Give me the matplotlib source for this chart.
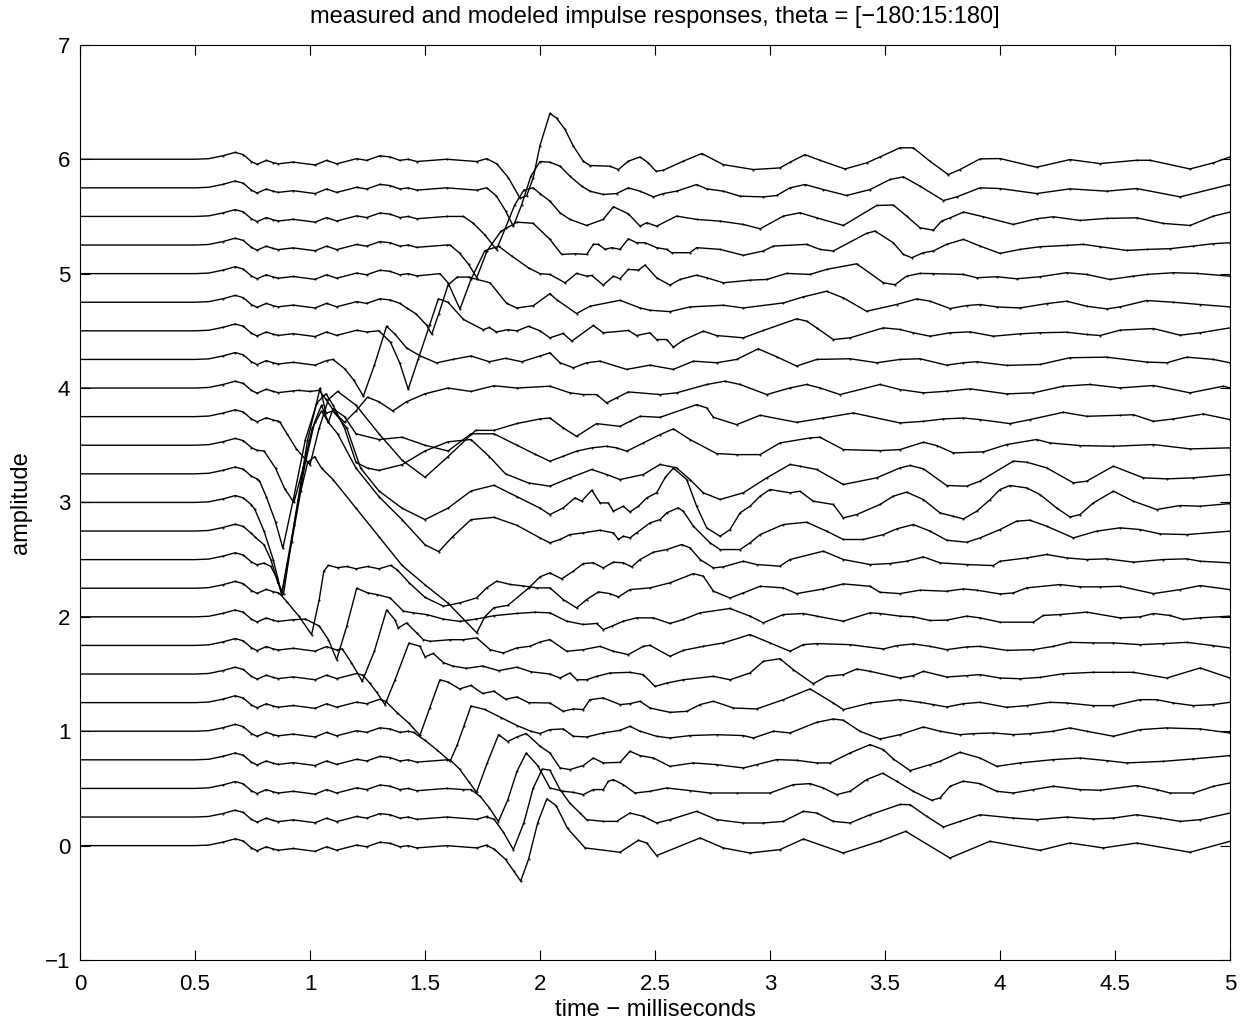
import matplotlib
matplotlib.use("Agg")
import matplotlib.pyplot as plt
from matplotlib.ticker import MultipleLocator, FuncFormatter

plt.rcParams['font.family'] = ['Liberation Sans', 'DejaVu Sans']

theta = list(range(-180, 181, 15))
offset_step = 0.25

# shared onset wiggle (time ms, amplitude relative to trace offset)
pre_t = [0.0, 0.50, 0.56, 0.62, 0.675, 0.71, 0.745, 0.77, 0.81, 0.84, 0.862, 0.927, 1.022, 1.072, 1.116,
         1.203, 1.246, 1.304, 1.348, 1.391, 1.427, 1.464, 1.594, 1.725, 1.768]
pre_y = [0.0, 0.0, 0.005, 0.03, 0.06, 0.04, -0.02, -0.045, -0.01, -0.03, -0.04, -0.025, -0.05, -0.01, -0.04,
         0.005, -0.01, 0.03, 0.02, -0.01, 0.0, -0.02, 0.0, -0.02, 0.005]

wave_00 = [(1.77,0.0),(1.80,-0.03),(1.85,-0.12),(1.885,-0.22),(1.916,-0.31),(1.95,-0.12),(1.99,0.2),(2.03,0.41),(2.07,0.35),(2.12,0.15),(2.196,-0.02),(2.348,-0.058),(2.428,0.047),(2.464,0.023),(2.507,-0.087),(2.696,0.067),(2.797,-0.02),(2.913,-0.064),(3.043,-0.035),(3.145,0.058),(3.319,-0.064),(3.48,0.04),(3.59,0.125),(3.782,-0.108),(3.956,0.038),(4.174,-0.041),(4.304,0.023),(4.449,-0.02),(4.594,0.023),(4.826,-0.058),(5.0,0.038)]
wave_01 = [(1.77,0.0),(1.80,-0.02),(1.84,-0.13),(1.884,-0.285),(1.93,-0.05),(1.97,0.25),(2.01,0.42),(2.043,0.41),(2.087,0.24),(2.13,0.12),(2.174,0.035),(2.203,-0.023),(2.275,-0.038),(2.333,-0.038),(2.391,0.035),(2.449,0.006),(2.507,-0.052),(2.565,-0.023),(2.681,0.05),(2.768,-0.023),(2.884,-0.052),(2.971,-0.052),(3.058,-0.038),(3.145,0.05),(3.203,0.035),(3.275,-0.038),(3.348,-0.052),(3.435,0.02),(3.565,0.11),(3.609,0.108),(3.681,0.006),(3.754,-0.087),(3.826,-0.038),(3.913,0.02),(4.058,-0.009),(4.159,-0.023),(4.29,0.0),(4.406,-0.017),(4.493,-0.009),(4.594,0.02),(4.696,-0.009),(4.783,-0.038),(4.87,-0.023),(5.0,0.035)]
wave_02 = [(1.667,-0.01),(1.70,-0.01),(1.74,-0.07),(1.78,-0.17),(1.819,-0.29),(1.86,-0.1),(1.90,0.15),(1.94,0.31),(1.99,0.2),(2.043,0.004),(2.101,-0.025),(2.145,-0.034),(2.188,-0.054),(2.232,-0.01),(2.275,-0.01),(2.297,0.062),(2.319,0.077),(2.362,0.033),(2.413,-0.04),(2.478,-0.025),(2.551,0.004),(2.652,-0.019),(2.739,-0.04),(2.855,-0.04),(3.0,-0.04),(3.101,0.033),(3.174,0.042),(3.232,0.004),(3.29,-0.054),(3.348,-0.025),(3.42,0.077),(3.49,0.133),(3.55,0.063),(3.623,-0.025),(3.703,-0.104),(3.739,-0.083),(3.783,0.019),(3.84,0.063),(3.913,0.042),(3.986,-0.025),(4.058,-0.04),(4.145,-0.01),(4.232,0.019),(4.348,-0.01),(4.435,-0.016),(4.594,0.025),(4.681,-0.01),(4.739,-0.04),(4.841,-0.04),(4.928,0.019),(5.0,0.048)]
wave_03 = [(1.609,0.0),(1.65,-0.08),(1.69,-0.19),(1.724,-0.284),(1.77,-0.03),(1.82,0.22),(1.86,0.16),(1.90,0.2),(1.94,0.23),(2.0,0.12),(2.043,0.06),(2.087,-0.071),(2.13,-0.085),(2.188,-0.05),(2.232,0.016),(2.275,-0.027),(2.348,-0.022),(2.391,0.075),(2.435,0.037),(2.493,0.016),(2.565,-0.057),(2.667,-0.027),(2.768,-0.042),(2.884,-0.071),(2.942,-0.042),(3.029,0.002),(3.116,-0.004),(3.203,-0.027),(3.261,-0.027),(3.348,0.06),(3.435,0.133),(3.493,0.089),(3.536,0.008),(3.609,-0.094),(3.696,-0.042),(3.739,-0.013),(3.826,0.066),(3.913,0.016),(3.986,-0.057),(4.087,-0.027),(4.232,0.002),(4.348,0.016),(4.464,-0.007),(4.551,-0.027),(4.71,-0.013),(4.841,0.008),(5.0,0.037)]
wave_04 = [(1.45,-0.01),(1.50,-0.08),(1.55,-0.16),(1.609,-0.263),(1.64,-0.12),(1.67,0.05),(1.70,0.22),(1.76,0.19),(1.83,0.12),(1.9,0.05),(1.96,0.0),(2.0,-0.02),(2.043,0.014),(2.101,0.02),(2.145,-0.044),(2.203,-0.05),(2.275,-0.015),(2.348,0.008),(2.391,0.043),(2.435,0.0),(2.507,-0.044),(2.565,-0.059),(2.652,-0.038),(2.768,-0.03),(2.884,-0.038),(2.928,-0.059),(3.015,0.0),(3.087,-0.015),(3.203,0.078),(3.275,0.107),(3.319,0.096),(3.391,0.0),(3.478,-0.068),(3.565,-0.03),(3.667,0.037),(3.739,0.0),(3.826,-0.03),(3.884,-0.021),(3.971,-0.015),(4.058,-0.03),(4.13,-0.021),(4.232,0.0),(4.304,0.029),(4.377,0.0),(4.493,-0.044),(4.609,0.014),(4.725,0.029),(4.87,0.02),(5.0,-0.015)]
wave_05 = [(1.33,0.01),(1.38,-0.09),(1.43,-0.18),(1.478,-0.286),(1.52,-0.05),(1.565,0.2),(1.6,0.18),(1.65,0.12),(1.7,0.15),(1.75,0.08),(1.8,0.1),(1.85,0.03),(1.9,0.05),(1.95,0.0),(2.043,-0.003),(2.101,-0.076),(2.145,-0.055),(2.188,-0.061),(2.217,0.026),(2.275,0.041),(2.348,-0.017),(2.391,-0.009),(2.435,0.012),(2.478,-0.047),(2.565,-0.085),(2.638,-0.076),(2.696,-0.017),(2.754,0.012),(2.841,-0.047),(2.942,-0.055),(3.058,0.026),(3.174,0.12),(3.275,-0.003),(3.319,-0.061),(3.435,-0.003),(3.565,0.026),(3.652,0.003),(3.71,-0.017),(3.768,-0.038),(3.841,-0.009),(3.913,0.003),(4.029,-0.041),(4.116,-0.026),(4.217,0.003),(4.29,-0.003),(4.406,-0.026),(4.493,-0.026),(4.609,0.026),(4.681,0.026),(4.754,-0.003),(4.841,-0.026),(4.928,-0.017),(5.0,0.003)]
wave_06 = [(1.23,-0.01),(1.26,-0.08),(1.29,-0.16),(1.326,-0.267),(1.37,-0.05),(1.43,0.27),(1.478,0.243),(1.5,0.15),(1.536,0.18),(1.58,0.1),(1.62,0.07),(1.68,0.05),(1.75,0.07),(1.82,0.03),(1.9,0.06),(1.96,0.02),(2.043,0.0),(2.087,-0.035),(2.13,0.009),(2.16,-0.05),(2.203,-0.05),(2.246,-0.02),(2.304,0.009),(2.391,0.015),(2.449,-0.005),(2.5,-0.108),(2.551,-0.079),(2.623,-0.05),(2.754,-0.02),(2.826,-0.05),(2.913,0.009),(2.971,0.111),(3.043,0.134),(3.101,0.038),(3.188,-0.085),(3.246,-0.02),(3.319,-0.005),(3.377,0.044),(3.435,0.024),(3.565,-0.035),(3.623,-0.014),(3.667,0.024),(3.768,-0.026),(3.855,-0.014),(3.913,-0.005),(4.0,-0.035),(4.087,-0.041),(4.174,-0.029),(4.275,0.003),(4.406,0.015),(4.493,0.015),(4.58,0.015),(4.725,-0.035),(4.87,0.053),(5.0,-0.035)]
wave_07 = [(1.14,-0.03),(1.18,-0.15),(1.227,-0.313),(1.28,-0.05),(1.333,0.31),(1.369,0.225),(1.384,0.153),(1.42,0.197),(1.464,0.109),(1.493,0.05),(1.522,0.036),(1.609,0.05),(1.667,0.05),(1.725,0.066),(1.783,-0.037),(1.84,-0.066),(1.899,-0.022),(1.957,-0.007),(2.0,0.03),(2.043,0.051),(2.116,-0.051),(2.188,-0.037),(2.261,-0.008),(2.319,-0.051),(2.384,-0.08),(2.449,-0.008),(2.478,0.001),(2.565,-0.095),(2.623,-0.043),(2.71,-0.008),(2.797,0.022),(2.913,0.095),(3.0,0.022),(3.087,-0.051),(3.145,0.007),(3.203,0.016),(3.348,0.007),(3.493,-0.031),(3.55,-0.002),(3.623,0.013),(3.696,-0.008),(3.768,-0.037),(3.855,-0.013),(3.913,-0.008),(4.029,-0.043),(4.145,-0.037),(4.232,-0.008),(4.304,0.027),(4.406,0.022),(4.493,0.022),(4.609,0.007),(4.71,0.016),(4.812,0.027),(4.928,-0.002),(5.0,-0.022)]
wave_08 = [(0.98,-0.02),(1.04,-0.08),(1.08,-0.2),(1.116,-0.374),(1.16,-0.08),(1.203,0.25),(1.25,0.21),(1.29,0.195),(1.348,0.166),(1.406,0.049),(1.449,0.035),(1.507,0.02),(1.58,-0.02),(1.65,-0.04),(1.72,-0.02),(1.8,0.01),(1.9,0.03),(1.98,0.04),(2.043,0.035),(2.116,-0.038),(2.188,-0.067),(2.246,-0.058),(2.275,-0.111),(2.312,-0.082),(2.362,-0.038),(2.42,-0.009),(2.493,-0.009),(2.565,-0.058),(2.623,-0.023),(2.696,0.035),(2.826,0.073),(2.913,0.006),(2.971,-0.052),(3.058,0.02),(3.145,0.029),(3.203,0.006),(3.319,-0.038),(3.435,0.035),(3.478,0.029),(3.565,0.006),(3.623,0.0),(3.696,-0.032),(3.768,-0.029),(3.855,0.006),(3.913,-0.009),(4.0,-0.047),(4.145,-0.047),(4.188,0.012),(4.261,0.02),(4.377,0.041),(4.522,-0.009),(4.609,0.0),(4.667,0.029),(4.739,0.012),(4.797,-0.023),(4.87,-0.009),(5.0,0.006)]
wave_09 = [(0.87,-0.05),(0.9,-0.12),(0.95,-0.24),(1.007,-0.405),(1.04,-0.1),(1.06,0.15),(1.08,0.2),(1.12,0.18),(1.16,0.19),(1.2,0.17),(1.25,0.19),(1.3,0.17),(1.35,0.2),(1.38,0.16),(1.43,0.05),(1.5,-0.08),(1.58,-0.157),(1.652,-0.128),(1.725,-0.084),(1.768,0.003),(1.812,0.062),(1.87,0.033),(1.928,0.02),(1.986,0.003),(2.043,0.003),(2.101,-0.099),(2.159,-0.172),(2.203,-0.099),(2.254,-0.032),(2.304,-0.047),(2.341,-0.076),(2.391,-0.012),(2.478,0.003),(2.565,0.047),(2.667,0.128),(2.71,0.105),(2.754,-0.026),(2.826,-0.085),(2.884,-0.041),(2.957,0.017),(3.058,0.003),(3.116,-0.047),(3.232,-0.006),(3.319,0.038),(3.435,0.017),(3.478,-0.035),(3.565,-0.047),(3.652,-0.017),(3.768,-0.026),(3.841,-0.006),(3.899,-0.017),(4.0,-0.05),(4.058,-0.041),(4.116,0.003),(4.261,0.032),(4.348,0.012),(4.435,0.012),(4.522,0.017),(4.667,-0.047),(4.783,-0.012),(4.87,0.023),(5.0,-0.012)]
wave_10 = [(0.80,-0.03),(0.83,-0.06),(0.855,-0.16),(0.877,-0.3),(0.92,0.15),(0.96,0.6),(0.99,0.85),(1.02,0.9),(1.05,0.8),(1.1,0.7),(1.2,0.45),(1.3,0.2),(1.4,-0.05),(1.5,-0.22),(1.6,-0.38),(1.725,-0.64),(1.76,-0.5),(1.8,-0.42),(1.86,-0.4),(1.95,-0.25),(2.0,-0.15),(2.043,-0.116),(2.094,-0.168),(2.145,-0.101),(2.188,-0.034),(2.232,-0.028),(2.275,-0.072),(2.319,-0.022),(2.362,-0.028),(2.399,-0.063),(2.435,0.001),(2.493,0.065),(2.551,0.088),(2.616,0.132),(2.652,0.103),(2.696,0.001),(2.754,-0.072),(2.797,-0.063),(2.884,-0.014),(2.942,-0.043),(3.043,-0.057),(3.087,0.001),(3.232,0.074),(3.319,0.001),(3.435,-0.043),(3.522,-0.034),(3.594,-0.014),(3.667,0.024),(3.739,-0.028),(3.855,-0.043),(3.971,-0.052),(4.0,-0.014),(4.116,0.015),(4.203,0.045),(4.29,0.015),(4.377,0.001),(4.464,0.007),(4.58,-0.022),(4.71,0.001),(4.812,0.007),(4.87,-0.014),(5.0,-0.028)]
wave_11 = [(0.76,-0.05),(0.8,-0.12),(0.83,-0.25),(0.86,-0.45),(0.885,-0.55),(0.93,0.05),(0.98,0.6),(1.02,0.95),(1.05,1.1),(1.08,0.95),(1.12,0.85),(1.2,0.55),(1.3,0.3),(1.4,0.1),(1.5,-0.12),(1.56,-0.18),(1.62,-0.05),(1.7,0.1),(1.8,0.12),(1.9,0.05),(2.0,-0.06),(2.043,-0.103),(2.087,-0.074),(2.13,-0.031),(2.188,-0.016),(2.261,0.007),(2.319,-0.016),(2.341,-0.074),(2.362,-0.045),(2.391,-0.06),(2.42,-0.016),(2.478,0.071),(2.522,0.1),(2.551,0.159),(2.601,0.203),(2.623,0.173),(2.667,0.042),(2.739,-0.103),(2.783,-0.162),(2.87,-0.162),(2.913,-0.103),(2.957,-0.031),(3.058,0.057),(3.159,0.077),(3.246,-0.001),(3.319,-0.074),(3.406,-0.074),(3.493,-0.031),(3.551,0.019),(3.623,0.057),(3.696,-0.001),(3.768,-0.08),(3.855,-0.098),(3.913,-0.06),(4.0,0.013),(4.072,0.086),(4.13,0.095),(4.203,0.042),(4.319,-0.06),(4.42,-0.001),(4.522,0.028),(4.609,0.013),(4.696,-0.025),(4.812,-0.031),(5.0,-0.001)]
wave_12 = [(0.76,-0.06),(0.8,-0.25),(0.84,-0.5),(0.877,-0.8),(0.93,-0.2),(0.99,0.55),(1.044,1.0),(1.07,0.78),(1.1,0.8),(1.16,0.65),(1.22,0.3),(1.3,0.1),(1.4,-0.05),(1.5,-0.15),(1.6,-0.05),(1.7,0.1),(1.8,0.15),(1.9,0.05),(2.0,-0.05),(2.043,-0.106),(2.101,-0.048),(2.152,0.04),(2.181,0.011),(2.225,0.107),(2.261,-0.004),(2.297,-0.004),(2.319,-0.077),(2.362,-0.033),(2.391,-0.083),(2.428,-0.033),(2.464,0.04),(2.507,0.084),(2.545,0.22),(2.58,0.3),(2.638,0.2),(2.681,-0.033),(2.725,-0.223),(2.783,-0.296),(2.826,-0.237),(2.87,-0.091),(2.913,-0.033),(2.957,0.055),(3.0,0.113),(3.087,0.084),(3.13,0.098),(3.188,0.011),(3.275,-0.018),(3.319,-0.135),(3.377,-0.106),(3.478,-0.018),(3.536,0.055),(3.594,0.09),(3.667,0.025),(3.739,-0.091),(3.797,-0.121),(3.841,-0.144),(3.899,-0.077),(3.957,0.025),(4.0,0.113),(4.043,0.148),(4.116,0.127),(4.174,0.069),(4.246,-0.048),(4.304,-0.127),(4.348,-0.106),(4.406,-0.004),(4.493,0.098),(4.58,0.011),(4.681,-0.062),(4.783,-0.027),(4.87,-0.033),(5.0,-0.01)]
wave_13 = [(0.78,-0.06),(0.81,-0.2),(0.85,-0.42),(0.882,-0.65),(0.93,-0.2),(0.98,0.3),(1.03,0.62),(1.07,0.7),(1.1,0.6),(1.15,0.4),(1.2,0.1),(1.25,0.05),(1.3,0.03),(1.4,0.08),(1.5,0.2),(1.6,0.28),(1.7,0.3),(1.78,0.15),(1.85,0.0),(1.95,-0.08),(2.043,-0.108),(2.13,-0.035),(2.225,0.038),(2.29,-0.006),(2.348,-0.05),(2.449,-0.006),(2.522,0.082),(2.594,0.052),(2.652,-0.05),(2.71,-0.166),(2.783,-0.224),(2.884,-0.166),(2.986,-0.035),(3.087,0.082),(3.13,0.067),(3.203,0.038),(3.319,-0.093),(3.464,-0.035),(3.565,0.052),(3.609,0.073),(3.667,0.044),(3.768,-0.102),(3.855,-0.108),(3.913,-0.064),(4.058,0.111),(4.116,0.102),(4.203,0.052),(4.319,-0.079),(4.377,-0.064),(4.493,0.067),(4.623,-0.035),(4.725,-0.044),(4.841,-0.035),(5.0,-0.006)]
wave_14 = [(0.80,-0.05),(0.85,-0.2),(0.89,-0.38),(0.93,-0.5),(0.97,-0.2),(1.01,0.15),(1.05,0.3),(1.08,0.2),(1.1,0.32),(1.15,0.25),(1.2,0.1),(1.3,0.05),(1.4,0.07),(1.5,0.0),(1.6,-0.05),(1.7,0.1),(1.8,0.1),(1.9,0.0),(1.98,-0.08),(2.043,-0.14),(2.101,-0.096),(2.159,-0.052),(2.225,-0.023),(2.29,-0.009),(2.333,-0.023),(2.377,-0.052),(2.449,0.02),(2.522,0.093),(2.58,0.143),(2.652,0.05),(2.768,-0.073),(2.855,-0.082),(2.957,-0.082),(3.043,0.02),(3.174,0.064),(3.217,0.07),(3.319,-0.038),(3.478,-0.047),(3.565,-0.038),(3.667,0.026),(3.725,-0.003),(3.797,-0.067),(3.928,-0.058),(4.029,0.006),(4.159,0.05),(4.217,0.02),(4.348,-0.003),(4.493,-0.009),(4.667,0.006),(4.826,-0.032),(5.0,-0.023)]
wave_15 = [(0.87,-0.05),(0.9,-0.15),(0.94,-0.28),(1.0,-0.42),(1.04,-0.1),(1.08,0.15),(1.12,0.22),(1.2,0.1),(1.3,-0.15),(1.4,-0.38),(1.5,-0.53),(1.6,-0.35),(1.72,-0.12),(1.8,-0.12),(1.9,-0.06),(2.0,-0.02),(2.043,-0.012),(2.101,-0.099),(2.159,-0.172),(2.246,-0.061),(2.348,-0.085),(2.391,-0.041),(2.435,0.003),(2.522,-0.006),(2.681,0.105),(2.725,0.076),(2.754,-0.006),(2.855,-0.07),(2.957,0.012),(3.116,-0.05),(3.232,-0.012),(3.362,0.032),(3.565,-0.055),(3.667,-0.041),(3.754,-0.02),(3.841,-0.012),(3.913,-0.026),(4.043,-0.061),(4.13,-0.026),(4.275,0.038),(4.377,0.003),(4.522,0.012),(4.58,0.017),(4.667,-0.041),(4.754,-0.02),(4.884,0.023),(5.0,-0.026)]
wave_16 = [(0.95,-0.02),(1.0,-0.03),(1.04,-0.02),(1.07,-0.1),(1.11,-0.22),(1.15,-0.3),(1.2,-0.2),(1.25,-0.08),(1.3,-0.12),(1.36,-0.2),(1.42,-0.12),(1.5,-0.05),(1.6,0.0),(1.7,-0.03),(1.8,0.02),(1.9,0.0),(2.043,0.016),(2.13,-0.042),(2.188,-0.057),(2.246,-0.057),(2.29,-0.13),(2.333,-0.086),(2.384,-0.034),(2.522,-0.057),(2.594,-0.042),(2.725,0.031),(2.804,0.06),(2.87,0.031),(2.986,-0.057),(3.087,0.001),(3.159,0.031),(3.217,0.001),(3.304,-0.057),(3.478,0.031),(3.565,-0.013),(3.667,-0.042),(3.768,-0.028),(3.87,-0.007),(4.029,-0.051),(4.145,-0.042),(4.275,0.016),(4.391,0.031),(4.522,0.001),(4.667,0.022),(4.826,-0.042),(4.971,0.016),(5.0,0.001)]
wave_17 = [(1.10,0.0),(1.15,-0.08),(1.19,-0.18),(1.232,-0.32),(1.28,-0.05),(1.333,0.29),(1.37,0.22),(1.42,0.1),(1.48,0.03),(1.55,-0.03),(1.62,0.0),(1.7,0.03),(1.78,-0.02),(1.85,0.01),(1.92,-0.02),(2.0,0.03),(2.043,0.058),(2.087,-0.029),(2.145,-0.073),(2.203,-0.029),(2.261,-0.015),(2.377,-0.087),(2.478,-0.05),(2.58,-0.087),(2.667,-0.015),(2.768,-0.029),(2.855,0.0),(2.949,0.093),(3.029,0.023),(3.116,-0.058),(3.203,0.0),(3.348,0.006),(3.464,-0.029),(3.565,0.0),(3.652,0.006),(3.768,-0.05),(3.841,-0.029),(3.899,-0.02),(4.029,-0.052),(4.174,-0.044),(4.304,0.015),(4.464,0.02),(4.638,-0.023),(4.725,-0.029),(4.812,0.02),(4.928,0.0),(5.0,-0.029)]
wave_18 = [(1.30,0.0),(1.35,-0.1),(1.39,-0.28),(1.427,-0.51),(1.47,-0.25),(1.52,0.05),(1.558,0.28),(1.6,0.25),(1.667,0.1),(1.753,0.01),(1.78,0.03),(1.81,-0.01),(1.86,0.01),(1.9,0.0),(1.95,0.04),(2.0,0.0),(2.043,-0.061),(2.101,-0.023),(2.138,-0.09),(2.232,0.047),(2.275,-0.017),(2.384,0.003),(2.42,-0.041),(2.478,-0.017),(2.507,-0.076),(2.551,-0.076),(2.58,-0.143),(2.623,-0.082),(2.71,-0.003),(2.768,-0.041),(2.884,-0.061),(2.971,0.003),(3.116,0.105),(3.159,0.085),(3.203,0.026),(3.275,-0.076),(3.348,-0.061),(3.493,0.026),(3.565,0.012),(3.623,-0.017),(3.696,-0.047),(3.783,-0.017),(3.87,-0.009),(3.971,-0.047),(4.087,-0.026),(4.174,-0.017),(4.29,-0.012),(4.377,-0.032),(4.435,-0.041),(4.522,0.006),(4.667,0.02),(4.783,-0.038),(4.87,-0.017),(5.0,0.026)]
wave_19 = [(1.42,-0.05),(1.46,-0.1),(1.507,-0.2),(1.529,-0.28),(1.56,-0.1),(1.6,0.15),(1.64,0.22),(1.69,0.22),(1.725,0.2),(1.783,0.17),(1.855,-0.01),(1.899,-0.05),(1.971,-0.03),(2.043,0.075),(2.072,0.023),(2.159,-0.099),(2.217,-0.035),(2.348,0.017),(2.435,-0.05),(2.478,-0.07),(2.565,-0.082),(2.652,-0.041),(2.797,-0.026),(2.884,-0.05),(3.058,-0.006),(3.145,0.047),(3.246,0.096),(3.319,0.038),(3.42,-0.079),(3.55,-0.02),(3.638,0.029),(3.696,0.009),(3.783,-0.055),(3.855,-0.029),(3.913,-0.02),(3.986,-0.041),(4.087,-0.05),(4.203,-0.012),(4.29,0.009),(4.377,-0.035),(4.464,-0.058),(4.522,-0.041),(4.638,0.015),(4.754,0.0),(4.87,-0.02),(5.0,-0.041)]
wave_20 = [(1.565,0.0),(1.6,-0.08),(1.652,-0.31),(1.70,-0.05),(1.76,0.2),(1.82,0.24),(1.88,0.15),(1.95,0.05),(2.0,0.0),(2.043,-0.007),(2.109,-0.08),(2.159,0.002),(2.203,-0.022),(2.225,-0.016),(2.275,-0.1),(2.319,-0.022),(2.348,-0.045),(2.384,0.037),(2.428,0.031),(2.457,0.075),(2.507,-0.036),(2.565,-0.1),(2.609,-0.051),(2.681,-0.013),(2.725,-0.036),(2.797,-0.08),(2.913,-0.057),(2.986,-0.051),(3.072,0.002),(3.174,-0.007),(3.246,0.037),(3.377,0.086),(3.493,-0.08),(3.543,-0.097),(3.594,-0.022),(3.652,0.002),(3.71,0.0),(3.841,-0.007),(3.899,-0.036),(3.986,-0.027),(4.072,-0.045),(4.174,-0.027),(4.29,0.008),(4.377,-0.007),(4.478,-0.051),(4.58,-0.022),(4.638,-0.007),(4.754,0.008),(4.855,0.002),(5.0,-0.022)]
wave_21 = [(1.609,0.0),(1.65,-0.07),(1.69,-0.17),(1.725,-0.285),(1.77,-0.05),(1.83,0.12),(1.9,0.2),(1.97,0.19),(2.043,0.05),(2.094,-0.082),(2.152,-0.076),(2.203,-0.082),(2.232,0.006),(2.254,0.006),(2.283,-0.038),(2.312,-0.023),(2.348,-0.038),(2.384,0.055),(2.42,0.02),(2.457,0.02),(2.507,-0.023),(2.551,-0.038),(2.572,-0.067),(2.652,-0.067),(2.681,-0.023),(2.783,-0.038),(2.884,-0.09),(2.971,-0.052),(3.015,-0.009),(3.159,0.006),(3.217,-0.038),(3.275,-0.052),(3.42,0.102),(3.457,0.122),(3.536,0.02),(3.58,-0.082),(3.616,-0.111),(3.667,-0.067),(3.71,-0.052),(3.768,0.006),(3.841,0.05),(3.913,-0.009),(4.0,-0.073),(4.087,-0.038),(4.174,-0.015),(4.29,-0.003),(4.362,0.006),(4.435,-0.015),(4.551,-0.047),(4.638,-0.038),(4.739,-0.032),(4.841,-0.009),(4.928,0.012),(5.0,0.02)]
wave_22 = [(1.667,0.0),(1.71,-0.06),(1.76,-0.16),(1.811,-0.29),(1.85,-0.1),(1.89,0.1),(1.93,0.23),(1.97,0.25),(2.0,0.2),(2.043,0.134),(2.087,0.032),(2.13,-0.026),(2.203,-0.079),(2.275,-0.026),(2.319,0.085),(2.384,0.023),(2.435,-0.085),(2.464,-0.055),(2.507,-0.085),(2.594,0.003),(2.681,-0.026),(2.783,-0.041),(2.884,-0.07),(2.957,-0.108),(3.058,0.003),(3.13,0.032),(3.203,-0.012),(3.319,-0.079),(3.464,0.096),(3.536,0.1),(3.594,0.003),(3.652,-0.099),(3.71,-0.12),(3.746,-0.041),(3.783,-0.012),(3.841,0.038),(3.928,-0.003),(4.058,-0.07),(4.159,-0.02),(4.232,-0.003),(4.348,-0.035),(4.464,-0.017),(4.594,-0.012),(4.71,-0.061),(4.826,-0.079),(4.928,0.003),(5.0,0.038)]
wave_23 = [(1.768,0.0),(1.81,-0.07),(1.85,-0.2),(1.884,-0.335),(1.92,-0.15),(1.96,0.1),(2.0,0.23),(2.043,0.224),(2.087,0.19),(2.13,0.102),(2.181,0.015),(2.217,-0.029),(2.275,-0.058),(2.333,-0.05),(2.384,0.0),(2.435,-0.029),(2.493,-0.079),(2.536,-0.05),(2.594,-0.029),(2.681,0.029),(2.725,-0.009),(2.797,-0.029),(2.87,-0.073),(2.971,-0.079),(3.029,-0.067),(3.087,0.0),(3.152,0.029),(3.232,-0.015),(3.333,-0.067),(3.435,-0.015),(3.522,0.073),(3.58,0.096),(3.652,0.015),(3.754,-0.111),(3.812,-0.079),(3.913,0.0),(4.0,-0.006),(4.159,-0.05),(4.304,-0.009),(4.464,-0.029),(4.594,-0.006),(4.783,-0.079),(5.0,0.029)]
wave_24 = [(1.768,0.005),(1.812,-0.04),(1.862,-0.16),(1.913,-0.34),(1.942,-0.32),(1.971,-0.16),(2.0,0.12),(2.043,0.4),(2.072,0.36),(2.109,0.26),(2.145,0.114),(2.188,-0.017),(2.217,-0.055),(2.304,-0.061),(2.341,-0.09),(2.384,-0.017),(2.435,0.02),(2.471,-0.032),(2.504,-0.105),(2.536,-0.096),(2.623,-0.017),(2.703,0.05),(2.797,-0.047),(2.927,-0.09),(3.043,-0.076),(3.087,-0.026),(3.152,0.04),(3.217,-0.009),(3.326,-0.085),(3.42,-0.032),(3.478,0.02),(3.565,0.1),(3.623,0.1),(3.695,-0.017),(3.775,-0.134),(3.826,-0.09),(3.913,0.003),(4.0,0.006),(4.159,-0.07),(4.304,-0.003),(4.435,-0.038),(4.594,-0.009),(4.652,-0.009),(4.826,-0.085),(4.927,-0.032),(5.0,0.02)]

waves = [wave_00, wave_01, wave_02, wave_03, wave_04, wave_05, wave_06, wave_07, wave_08,
         wave_09, wave_10, wave_11, wave_12, wave_13, wave_14, wave_15, wave_16, wave_17,
         wave_18, wave_19, wave_20, wave_21, wave_22, wave_23, wave_24]

fig = plt.figure(figsize=(12.5, 10.26), dpi=100)
ax = fig.add_axes([0.064, 0.0643, 0.92, 0.892])

for k, w in enumerate(waves):
    base = k * offset_step
    pts = [(t, y) for t, y in zip(pre_t, pre_y) if t < w[0][0]] + list(w)
    ts = [p[0] for p in pts]
    ys = [base + p[1] for p in pts]
    ax.plot(ts, ys, color='black', lw=1.0, solid_joinstyle='round')
    ax.plot(ts[3:], ys[3:], linestyle='none', marker='.', ms=1.0, color='black')

def minus_fmt(v, p):
    return ('%g' % v).replace('-', '\u2212')

ax.set_xlim(0, 5)
ax.set_ylim(-1, 7)
ax.xaxis.set_major_locator(MultipleLocator(0.5))
ax.yaxis.set_major_locator(MultipleLocator(1))
ax.xaxis.set_major_formatter(FuncFormatter(minus_fmt))
ax.yaxis.set_major_formatter(FuncFormatter(minus_fmt))
ax.tick_params(direction='in', top=True, right=True, length=7, width=0.8, labelsize=16)
ax.tick_params(axis='x', pad=10)
ax.tick_params(axis='y', pad=7)
for s in ax.spines.values():
    s.set_linewidth(0.8)
ax.set_title('measured and modeled impulse responses, theta = [\u2212180:15:180]', fontsize=17, pad=16)
ax.set_xlabel('time \u2212 milliseconds', fontsize=17, labelpad=3)
ax.set_ylabel('amplitude', fontsize=17, labelpad=9)

fig.savefig('out.png', dpi=100, facecolor='white')
